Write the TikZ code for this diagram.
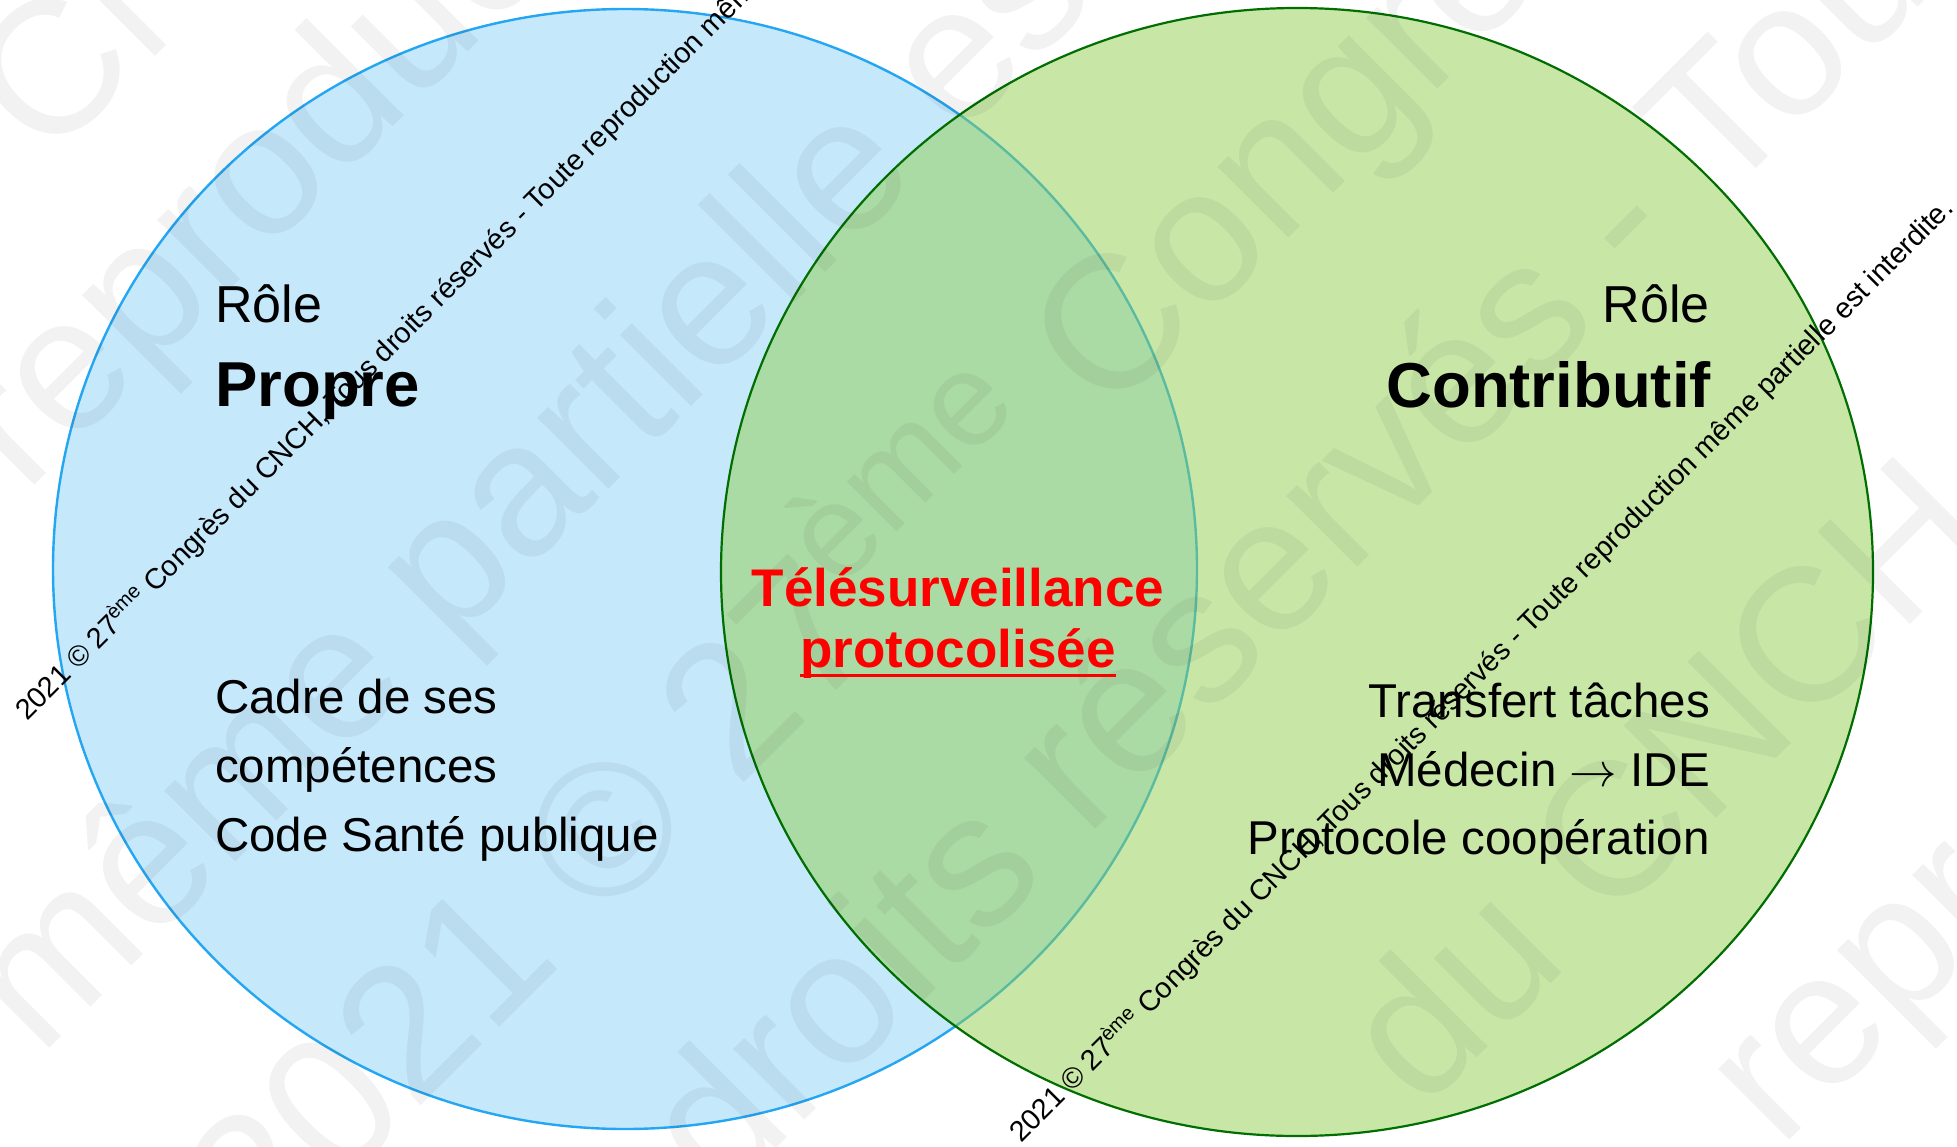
\RequirePackage{fix-cm}
\documentclass[tikz,border=0pt]{standalone}
\usepackage{fontspec}
\setmainfont{Liberation Sans}
\definecolor{propreblue}{RGB}{198,232,251}
\definecolor{propreline}{RGB}{36,166,242}
\definecolor{contribgreen}{RGB}{146,208,80}
\definecolor{contribline}{RGB}{0,110,0}
\begin{document}
\begin{tikzpicture}[x=1pt,y=-1pt,
				every node/.style={inner sep=0pt},
				roletitle/.style={font=\fontsize{52}{60}\selectfont},
				rolename/.style={font=\fontsize{63.5}{70}\selectfont\bfseries},
				roletext/.style={font=\fontsize{47.5}{69}\selectfont},
				keytext/.style={font=\fontsize{53}{60}\selectfont\bfseries,text=red,anchor=base},
				wmark/.style={font=\fontsize{190}{190}\selectfont,text=black,text opacity=0.05,rotate=45,anchor=base west},
				credit/.style={font=\fontsize{28.8}{30}\selectfont,rotate=45,anchor=base west}]
\useasboundingbox (0,0) rectangle (1957,1146);
\clip (0,0) rectangle (1957,1146);
\fill[white] (0,0) rectangle (1957,1146);
\draw[fill=propreblue,draw=propreline,line width=2.4pt] (625,569) ellipse [x radius=572pt,y radius=560pt];
\draw[fill=contribgreen,fill opacity=0.5,draw=contribline,line width=2.2pt] (1297,572) ellipse [x radius=576pt,y radius=564pt];
\node[wmark] (wmA) at (47,165) {CNCH};
\node[wmark] (wmB) at (25,495) {reproduction même};
\node[wmark] (wmC) at (40,1058) {même partielle est interdite};
\node[wmark] (wmD) at (265,1262) {2021 © 27\textsuperscript{ème} Congrès du CNCH};
\node[wmark] (wmE) at (721,1204) {droits réservés - Toute};
\node[wmark] (wmF) at (1422,1113) {du CNCH - Tous};
\node[wmark] (wmG) at (1780,1150) {reproduction};
\node[roletitle,anchor=base west] (roleL) at (215,322) {Rôle};
\node[rolename,anchor=base west] (propre) at (215,406) {Propre};
\node[roletext,anchor=base west] (cadre) at (215,713) {Cadre de ses};
\node[roletext,anchor=base west] (compet) at (215,782) {compétences};
\node[roletext,anchor=base west] (csp) at (215,851) {Code Santé publique};
\node[roletitle,anchor=base east] (roleR) at (1710,322) {Rôle};
\node[rolename,anchor=base east] (contrib) at (1711,407) {Contributif};
\node[roletext,anchor=base east] (transfert) at (1710,717) {Transfert tâches};
\node[roletext,anchor=base east] (medecin) at (1710,786) {Médecin $\rightarrow$ IDE};
\node[roletext,anchor=base east] (coop) at (1710,854) {Protocole coopération};
\node[keytext] (telesurv) at (958,606) {Télésurveillance};
\node[keytext] (proto) at (958,667) {protocolisée};
\draw[red,line width=3pt] ([yshift=-8pt]proto.base west) -- ([yshift=-8pt]proto.base east);
\node[credit] (creditL) at (27,722) {2021 © 27\textsuperscript{ème} Congrès du CNCH, Tous droits réservés - Toute reproduction même partielle est interdite.};
\node[credit] (creditR) at (1021,1144) {2021 © 27\textsuperscript{ème} Congrès du CNCH, Tous droits réservés - Toute reproduction même partielle est interdite.};
\end{tikzpicture}
\end{document}
